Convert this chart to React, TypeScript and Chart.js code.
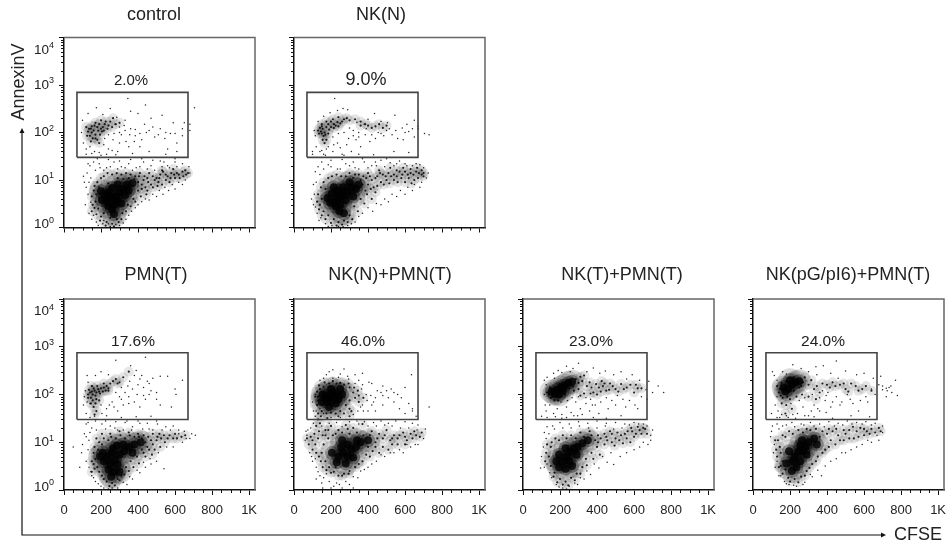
import React, { useEffect, useRef } from "react";
import { Chart, registerables } from "chart.js";

Chart.register(...registerables);

// CFSE, AnnexinV pairs (estimated sample of each cloud)
const controlCore = [250,4.3,280,4.5,230,3.5,270,3,300,5.5,320,6.5,240,5.5,220,4.8,260,6.8,290,8,340,8,260,2.4,290,3.6,205,3.8,330,4.8,370,8.5,310,3.2,240,2.8,200,5.8,350,6,270,1.9];
const controlMid = [400,9,430,10,450,11,480,12,500,11,520,13,550,13,580,14,610,14,640,15,420,8,380,10.5,350,11,320,10.5,290,11,240,8.5,190,7,175,5,170,3.5,185,2.5,215,2,250,1.6,285,1.5,315,2,345,3,375,4,400,6,440,7,470,8,510,9,550,10,600,11,230,1.3,260,1.2,295,1.3,200,1.7,160,6,405,12,460,14,530,16,590,17,660,13,625,11,150,100,170,90,180,130,200,120,140,85,160,110,190,150,220,150,240,140,170,75,130,105,210,130,250,170,180,70,145,120,165,140,205,105];
const controlMid2 = [150,4.5,165,7.5,180,9,200,11,215,12,235,14,260,13,285,14,310,13,335,14,360,13,385,12,410,14,435,12,455,9,490,10,515,11,535,15,560,12,575,11,595,13,620,13,645,12,655,16,670,14,420,6.5,450,6,480,7,505,7.5,530,8,570,9,165,2.6,155,3,150,2.2,175,1.9,195,1.4,225,1.1,270,1.05,310,1.5,335,2.2,360,2.8,385,3.5,415,4.5,445,5,125,85,135,120,150,135,155,75,185,110,195,90,215,110,225,170,235,120,260,130,280,150,300,160,120,130,145,65,190,60,265,200,170,160,200,180];
const controlDots = [110,9,125,14,140,20,160,24,130,5,115,3,135,2,150,1.5,175,1.3,210,1.2,250,1.05,300,1.1,335,1.5,365,2.2,400,3,440,4,480,5,515,6,545,7,585,8,620,9,655,10,680,14,675,19,640,22,600,24,560,20,520,25,470,20,430,24,390,18,350,22,310,19,270,24,230,18,190,22,105,60,120,45,140,50,165,40,190,38,215,55,240,45,265,70,290,40,310,90,335,65,360,120,385,85,410,50,435,150,460,110,490,80,520,120,545,75,575,95,610,60,640,85,95,100,100,180,130,250,175,330,210,240,250,320,285,210,330,180,360,280,400,250,440,380,470,200,530,230,590,160,650,160,680,110,705,330,680,150,120,35,200,33,280,34,370,36,460,40,550,35,610,40,345,520,560,45,410,95,385,115,300,130,275,150,325,140];
const controlDots2 = [145,11,170,16,195,18,215,16,250,19,290,17,330,18,370,16,410,19,450,17,490,16,530,19,570,18,610,19,120,7,135,9,105,12,145,3.4,160,1.8,185,1.1,215,1.4,240,1.2,280,1.15,320,1.25,350,1.8,385,2.6,420,3.5,460,3.8,500,4.5,535,5,565,6,600,6.5,640,8,130,22,180,28,240,27,300,25,360,27,420,28,480,26,540,24,600,28,150,36,230,35,260,42,300,60,350,50,380,65,420,70,445,100,480,130,510,90,550,100,600,95,640,120,220,75,240,90,270,95,300,100,330,110,355,90];

const nkNCore = [265,5,240,4.3,290,5.5,220,3.5,250,3,280,3.8,310,7,265,7,235,6,205,5.2,195,3.3,245,2.2,335,6.5,350,8,300,9,225,2.8,180,4.2,215,7,320,4.5,270,2];
const nkNMid = [360,10,390,11,420,10,450,12,480,13,510,14,540,13,570,15,600,15,630,14,660,15,690,13,700,12,370,8,400,8,430,7,470,9,500,10,540,10,580,11,620,11,650,10,320,11,280,12,350,13,400,14,460,16,520,18,170,6.5,150,4,140,3,160,2.2,185,1.8,215,1.5,240,1.3,270,1.4,300,1.8,325,2.8,360,4,395,5,440,5.5,155,120,165,100,175,130,185,150,200,170,215,150,235,165,250,155,145,105,160,85,150,135,190,115,225,140,270,190,285,200,300,180,175,70,165,60,440,135,460,150,420,125,480,125];
const nkNMid2 = [130,5,145,7,160,9,185,11,205,12,230,13,255,12,300,14,330,13,375,12,410,12,440,11,465,14,495,12,525,12,555,12,585,13,615,13,645,13,675,14,700,14,690,16,665,18,630,17,590,18,555,16,385,6,415,6.5,450,7.5,485,8,515,8.5,560,9,600,9,635,8.5,670,11,125,3.5,135,2.4,150,1.8,170,1.5,200,1.25,230,1.1,260,1.15,290,1.3,315,1.5,345,2.2,380,3.2,420,4,130,110,135,95,140,125,150,150,170,90,185,95,200,130,215,125,240,135,260,170,175,170,210,190,240,210,155,70,150,95,400,140,385,150,360,170,500,140,330,190,360,140];
const nkNDots = [120,9,110,5,105,3,125,2,145,1.6,170,1.2,205,1.1,240,1.05,290,1.1,330,1.3,370,2,400,2.6,445,3.2,490,4,530,5,575,6,615,7,650,8,690,9,715,11,725,14,700,18,660,22,610,20,570,25,520,23,470,26,420,20,380,24,330,18,280,22,235,17,185,21,130,19,115,15,100,40,120,50,140,40,160,35,185,50,210,40,235,60,260,35,285,55,310,40,335,70,360,50,385,90,410,65,440,75,470,95,500,110,530,90,560,75,590,70,620,105,650,80,670,120,705,95,730,90,115,85,110,110,130,170,160,220,195,260,235,290,265,320,290,300,220,520,340,165,380,150,400,190,435,250,470,170,505,160,545,230,585,125,610,150,650,180,670,135,100,35,170,33,270,33,350,35,430,34,540,40,620,38,390,120,350,100,320,110];
const nkNDots2 = [140,13,160,17,200,19,250,17,300,20,350,17,400,18,445,20,490,19,540,20,600,22,640,20,680,21,105,8,95,4,115,2.7,135,1.4,185,1.05,265,1.05,310,1.2,350,1.7,425,2.2,470,3,510,3.5,555,4.5,600,5,640,6,680,7,150,24,200,26,260,27,320,24,370,28,440,24,500,28,555,22,150,42,175,45,215,55,250,48,295,75,320,85,350,80,420,90,455,100,485,85,515,120,550,110,600,100,640,120,210,80,240,95,270,100,300,125];

const pmnCore = [275,4.3,250,3.5,300,5.5,235,5,260,6,290,3.4,325,6.5,350,8,265,7.5,215,4,285,8.5,320,9,370,6,240,2.7,270,2.4,210,6,380,9,415,10,300,2.4,255,1.9,195,5];
const pmnMid = [440,10,470,11,500,11,525,12,450,8,480,9,420,7,395,5,360,4,335,3,310,2,290,1.7,260,1.4,230,1.5,205,2,180,3,170,4.5,185,7,205,9,240,11,280,12,330,12,380,13,430,14,480,15,540,14,570,14,600,15,545,10,590,12,155,100,170,95,145,85,165,120,185,130,200,135,215,140,230,150,250,170,280,210,140,110,155,75,175,80,195,105,225,120,160,55,175,45,165,38,300,180,320,230,350,300];
const pmnMid2 = [160,6,150,4,165,8,190,10,215,12,255,13,305,14,355,14,405,13,455,13,505,13,515,15,560,12,610,12,635,13,655,14,430,6,460,7,490,7,520,8,440,5,475,5.5,405,3.6,375,3,350,2.5,325,2.1,300,1.6,275,1.25,245,1.2,215,1.7,190,2.4,165,2.8,160,3.5,150,2.4,420,12,400,15,350,16,300,17,250,15,205,15,175,12,130,100,135,125,150,115,175,110,190,115,160,135,180,150,210,115,240,135,265,190,290,170,240,120,215,170,150,150,145,65,170,65,190,75,130,85];
const pmnDots = [100,9,110,15,95,6,120,4,135,3,150,2,170,1.5,200,1.2,240,1.05,290,1.1,340,1.3,370,1.7,410,2.3,440,3,470,3.5,500,4,540,2.8,590,8,640,10,690,15,710,14,660,12,620,18,590,22,550,21,505,24,460,19,410,25,370,21,330,26,290,18,250,22,205,24,150,20,120,24,50,8,85,3,105,60,120,40,140,65,155,150,130,180,115,120,200,60,230,50,260,70,290,45,320,60,350,90,380,70,410,55,440,80,470,120,500,110,520,60,580,55,600,130,330,110,370,130,400,160,430,140,460,170,480,220,420,250,390,320,360,400,440,600,280,520,240,260,200,300,170,250,125,250,520,240,560,240,640,200,605,100,140,33,230,36,310,33,390,34,470,35,300,90,345,150];
const pmnDots2 = [130,7,135,11,120,13,140,16,175,18,225,19,275,20,320,18,365,18,425,19,480,18,530,18,575,18,620,15,650,17,680,12,130,26,170,28,225,28,280,27,340,28,400,28,450,25,500,28,145,2.4,160,1.8,185,1.35,215,1.1,260,1.1,320,1.45,355,1.9,395,2.6,430,3.8,465,4.5,510,6,555,8,165,35,205,40,245,60,270,55,310,80,350,65,395,100,430,95,460,100,500,80,110,90,125,70,280,110,310,140,355,190,380,250,410,210,450,190];

const nkNPCore = [195,85,225,95,180,70,240,80,210,110,170,95,260,100,225,65,190,55,150,70,200,130,250,130,155,100,290,5,310,7,265,6,240,5,335,8,290,9,255,8,360,10,230,3.8,280,3.6,320,4.8,205,6,400,11,340,11,260,11];
const nkNPMid = [130,90,125,60,140,130,160,145,190,170,230,170,270,160,300,140,320,110,300,75,280,60,330,85,350,70,150,45,200,42,250,45,300,50,130,40,110,15,120,22,140,25,170,18,200,22,240,18,280,23,320,20,370,24,420,17,460,15,500,18,540,14,590,16,630,15,660,14,690,16,440,10,480,12,520,11,560,12,600,13,640,12,400,8,440,8,480,8,530,9,90,13,80,9,100,7,130,12,160,9,170,14,150,6,170,4,190,3,215,2.4,240,2,270,2.2,300,2.5,330,3,370,4,410,5,210,14,300,15];
const nkNPMid2 = [70,12,100,11,115,9,135,17,155,14,185,12,185,18,225,15,260,16,290,19,340,16,375,14,410,14,450,12,490,14,530,12,570,14,610,11,650,17,680,13,120,6,135,5,145,4,155,3,175,2.6,200,2.3,225,3,260,2,295,2.2,350,3.5,390,5.5,425,6.5,460,6,510,7,560,9,600,9,130,75,115,90,125,115,135,155,165,180,210,190,250,175,295,170,325,140,345,120,350,95,375,85,310,45,270,40,225,40,175,40,145,35,240,35,300,35,180,32,130,30];
const nkNPDots = [70,14,75,18,60,11,85,6,100,4,120,3,140,2,175,2.2,150,1.4,190,1.5,215,1.2,245,1.3,280,1.5,320,1.9,360,2.5,400,3,445,4,490,5,520,6,570,7,610,9,655,9,700,12,710,19,670,23,640,25,600,27,550,28,510,25,470,28,430,26,380,27,340,28,105,45,115,35,100,70,115,100,140,200,175,260,210,220,250,270,295,210,330,170,365,130,390,100,420,60,440,45,480,60,510,85,540,70,570,50,600,40,640,50,660,35,620,65,405,180,350,200,450,120,480,95,525,130,560,100,330,260,190,300,210,330,270,340,370,280,635,260,640,45,730,55,155,1.1,120,1.7,260,1.1,320,1.1,370,60,395,75,415,95,440,85,345,45,375,45];
const nkNPDots2 = [65,17,90,20,105,25,150,22,190,25,230,26,260,21,300,27,350,24,400,22,445,22,490,23,530,22,575,20,620,20,665,18,95,5,115,4.5,130,2.4,160,1.8,200,1.1,230,1.4,300,1.3,345,1.8,380,2.7,420,3.5,470,5.5,540,6,590,6,630,8,670,9,140,50,120,45,160,40,200,33,250,33,320,38,360,55,400,45,430,70,470,110,500,120,540,110,580,85,600,140,480,150,420,170,370,160,290,240,240,230,160,220];

const nkTPCore = [185,125,170,105,205,140,225,155,245,175,265,185,155,115,195,100,215,120,255,6.3,235,5,275,7.5,215,4,250,4,295,8,230,7.5,195,5.5,265,3.2,320,9.5,350,11,195,3,290,5.5,230,2.8,180,4];
const nkTPMid = [140,100,150,85,170,75,190,75,225,100,250,135,285,210,310,235,330,250,360,180,410,140,432,150,450,120,470,170,500,130,530,165,560,140,600,110,620,135,380,110,400,100,330,105,300,130,390,11,420,12,450,13,480,15,510,16,550,15,590,17,630,18,660,19,670,15,520,11,560,12,600,13,440,9,480,10,400,8,370,6,340,4.5,320,3,290,2.2,260,1.8,230,1.5,200,1.7,170,2.3,150,3.2,140,5,150,8,175,12,215,14,260,14,310,16,360,17];
const nkTPMid2 = [125,6,130,9,120,4,155,10,195,11,235,12,285,12,330,13,370,14,405,14,440,15,470,17,500,12,530,14,565,17,610,15,640,15,650,20,620,21,585,20,405,10,455,11,495,8.5,540,9.5,580,10,165,1.9,185,1.45,215,1.3,245,1.25,280,1.6,310,2.2,345,3.3,380,4.5,415,5.5,145,140,160,90,130,110,180,90,200,165,235,180,270,150,300,175,320,190,345,150,370,140,395,165,420,115,440,170,465,125,485,150,515,115,545,130,580,160,610,160,640,135,425,190,365,105,310,95,275,120];
const nkTPDots = [110,8,100,5,125,12,95,2.9,130,3.5,155,1.8,180,1.3,215,1.1,250,1.2,280,1.4,310,1.8,345,2.5,385,3.5,430,5,475,6,490,3.4,600,7,650,10,690,14,700,18,650,24,600,26,550,24,500,26,450,25,400,28,350,25,300,27,250,24,200,26,160,22,130,21,100,35,125,45,145,60,165,40,185,50,210,38,235,55,260,42,285,70,310,50,340,65,365,80,390,60,420,70,450,85,480,75,510,95,540,80,575,75,605,60,640,90,665,125,670,80,680,190,700,110,760,110,730,150,115,200,130,230,165,280,190,320,235,390,270,350,300,450,345,300,380,360,415,280,445,310,490,260,530,300,560,210,590,260,630,200,130,33,210,32,295,36,380,33,450,32,530,36];
const nkTPDots2 = [115,16,140,15,170,19,215,20,260,20,305,22,355,20,400,20,445,22,490,19,535,20,575,23,625,24,670,22,690,11,675,9,630,8,560,6,525,5,455,3.8,410,2.9,365,2.1,330,1.7,295,1.3,235,1.05,195,1.15,145,2.3,115,3,145,30,175,34,235,33,275,36,320,38,360,45,410,40,460,50,500,60,555,55,620,50,205,70,240,75,265,85,300,90,340,85,375,60,120,60,115,100,125,160,170,220,210,290,255,300];

const nkPGCore = [210,160,190,130,175,115,230,180,200,200,165,140,250,190,270,6.5,245,6.3,225,5,285,8,255,8.5,215,4,195,6.5,255,4,300,10,330,12,235,3,290,5.5,180,3.6,210,2.5,345,9,265,11];
const nkPGMid = [150,95,145,130,160,85,185,90,220,120,260,150,280,230,300,160,330,130,360,110,400,160,430,180,470,160,500,130,530,170,570,120,610,150,300,90,340,80,180,60,210,50,175,40,360,13,400,15,430,17,460,14,490,18,520,18,560,17,600,19,640,19,680,20,690,17,420,11,470,11,520,12,570,13,390,7,350,5,320,3.5,290,2.5,260,1.9,225,1.7,190,1.8,160,2.2,140,3,130,5,145,8,120,11,175,13,215,15,270,16,310,18];
const nkPGMid2 = [125,7,135,11,150,6,160,4,150,3.2,175,2.7,200,1.5,245,1.45,280,2,305,2.9,340,4,375,6,410,8,445,9,490,11,545,12,600,14,630,15,660,16,615,17,580,20,540,21,500,15,450,19,410,19,375,17,340,19,290,19,245,18,195,17,160,14,130,150,140,110,155,175,180,190,220,230,250,140,270,180,315,200,345,150,375,170,415,140,445,150,490,170,515,115,555,150,590,130,640,120,265,100,235,90,200,80,155,65];
const nkPGDots = [95,13,115,9,100,17,130,4,150,2,170,1.5,195,1.3,235,1.2,270,1.3,320,1.9,370,2,450,4.5,500,6,560,8,620,11,670,14,700,22,660,25,610,27,560,26,510,28,460,25,410,27,360,24,310,26,260,24,210,26,160,22,130,24,100,40,120,60,115,250,105,300,130,90,135,45,155,38,190,33,240,40,270,55,300,36,330,60,360,45,390,75,420,55,450,90,480,70,510,100,540,65,580,75,610,90,640,130,660,100,680,160,700,150,720,135,735,140,750,110,770,200,780,95,720,90,260,350,300,300,345,260,380,400,420,280,460,220,500,310,560,260,600,280,650,220,690,240,160,300,215,420,450,500,340,380,130,33,230,32,330,34,430,32,530,36,630,34,375,120,405,110];
const nkPGDots2 = [105,22,140,19,180,23,225,21,275,23,330,22,385,21,440,22,485,23,535,24,590,24,640,23,700,16,680,11,640,10,590,9,530,7,480,6,420,4,390,3.2,350,2.6,310,2.1,280,1.45,220,1.25,180,1.35,140,2,120,3,110,6,145,33,180,36,215,38,280,36,315,45,350,50,395,42,430,70,470,60,525,80,570,45,620,70,205,65,250,75,280,85,320,100,360,85,395,95,700,125,725,120,745,150,180,270,130,200];

const titles = ["control", "NK(N)", "PMN(T)", "NK(N)+PMN(T)", "NK(T)+PMN(T)", "NK(pG/pI6)+PMN(T)"];
const percents = ["2.0%", "9.0%", "17.6%", "46.0%", "23.0%", "24.0%"];
const coreSets = [controlCore, nkNCore, pmnCore, nkNPCore, nkTPCore, nkPGCore];
const midSets = [controlMid, nkNMid, pmnMid, nkNPMid, nkTPMid, nkPGMid];
const midSets2 = [controlMid2, nkNMid2, pmnMid2, nkNPMid2, nkTPMid2, nkPGMid2];
const dotSets = [controlDots, nkNDots, pmnDots, nkNPDots, nkTPDots, nkPGDots];
const dotSets2 = [controlDots2, nkNDots2, pmnDots2, nkNPDots2, nkTPDots2, nkPGDots2];
const xTicks = [0, 200, 400, 600, 800, 1000];
const xMinorTicks = [50, 100, 150, 250, 300, 350, 450, 500, 550, 650, 700, 750, 850, 900, 950];
const yTicks = [1, 10, 100, 1000, 10000];
const yExponents = ["0", "1", "2", "3", "4"];
const gateX = [70, 670];
const gateYTop = [700, 700, 750, 750, 750, 750];
const gateYBottom = 30;

// layout
const FONT = "'Liberation Sans', Arial, sans-serif";
const TEXT = "#222";
const canvasBoxes = [
  { left: 0, top: 0, width: 262, height: 262, margin: 64, pad: 37.5, bottom: 34.5 },
  { left: 270, top: 0, width: 222, height: 262, margin: 24, pad: 37.5, bottom: 34.5 },
  { left: 0, top: 262, width: 262, height: 283, margin: 64, pad: 37, bottom: 55 },
  { left: 270, top: 262, width: 222, height: 283, margin: 24, pad: 37, bottom: 55 },
  { left: 499, top: 262, width: 222, height: 283, margin: 24, pad: 37, bottom: 55 },
  { left: 729, top: 262, width: 217, height: 283, margin: 24, pad: 37, bottom: 55 },
];
const titleCenters = [154, 381, 156, 390, 622, 848];
const titleY = [15, 15, 275, 275, 275, 275];
const percentCenters = [131, 366, 133, 363, 591, 823];
const percentY = [81, 80, 342, 342, 342, 342];
const percentSizes = [15, 18, 15.5, 15.5, 15.5, 15.5];

const toPoints = (flat: number[]) => {
  const out: { x: number; y: number }[] = [];
  for (let i = 0; i < flat.length; i += 2) out.push({ x: flat[i], y: flat[i + 1] });
  return out;
};

function Panel({ index }: { index: number }) {
  const ref = useRef<HTMLCanvasElement | null>(null);
  const box = canvasBoxes[index];
  useEffect(() => {
    const gate = [
      { x: gateX[0], y: gateYBottom },
      { x: gateX[1], y: gateYBottom },
      { x: gateX[1], y: gateYTop[index] },
      { x: gateX[0], y: gateYTop[index] },
      { x: gateX[0], y: gateYBottom },
    ];
    const core = toPoints(coreSets[index]);
    const mid = toPoints(midSets[index].concat(midSets2[index]));
    const dots = toPoints(dotSets[index].concat(dotSets2[index]));
    const decorate = {
      id: "decorate",
      afterDraw(chart: any) {
        const { ctx, chartArea: a, scales } = chart;
        const xs = scales.x;
        const ys = scales.y;
        ctx.save();
        ctx.strokeStyle = "#666";
        ctx.lineWidth = 1.5;
        ctx.beginPath();
        ctx.moveTo(a.left, a.top);
        ctx.lineTo(a.right, a.top);
        ctx.lineTo(a.right, a.bottom);
        ctx.stroke();
        ctx.strokeStyle = "#111";
        ctx.lineWidth = 1;
        ctx.beginPath();
        xMinorTicks.forEach((v) => {
          const p = Math.round(xs.getPixelForValue(v)) + 0.5;
          ctx.moveTo(p, a.bottom);
          ctx.lineTo(p, a.bottom + 3);
        });
        yTicks.slice(0, -1).forEach((d) => {
          [2, 3, 4, 5, 6, 7, 8, 9].forEach((m) => {
            const p = Math.round(ys.getPixelForValue(d * m)) + 0.5;
            ctx.moveTo(a.left, p);
            ctx.lineTo(a.left - 3, p);
          });
        });
        ctx.stroke();
        ctx.fillStyle = TEXT;
        ctx.textAlign = "center";
        ctx.textBaseline = "middle";
        ctx.font = `18px ${FONT}`;
        ctx.fillText(titles[index], titleCenters[index] - box.left, titleY[index] - box.top);
        ctx.font = `${percentSizes[index]}px ${FONT}`;
        ctx.fillText(percents[index], percentCenters[index] - box.left, percentY[index] - box.top);
        if (box.margin > 30) {
          yTicks.forEach((v, i) => {
            const shift = v === 10000 ? 12.5 : v === 1 ? -3 : 0;
            const p = ys.getPixelForValue(v) + shift;
            ctx.textAlign = "right";
            ctx.font = `13.5px ${FONT}`;
            ctx.fillText("10", 49, p);
            ctx.textAlign = "left";
            ctx.font = `9px ${FONT}`;
            ctx.fillText(yExponents[i], 49, p - 4);
          });
        }
        ctx.restore();
      },
    };
    const chart = new Chart(ref.current as HTMLCanvasElement, {
      type: "scatter",
      data: {
        datasets: [
          { data: gate, showLine: true, borderColor: "#444", borderWidth: 1.6, pointRadius: 0, fill: false, tension: 0 },
          { data: dots, backgroundColor: "rgba(0,0,0,0.85)", borderWidth: 0, pointRadius: 0.75 },
          { data: mid, backgroundColor: "rgba(0,0,0,0.85)", borderWidth: 0, pointRadius: 1.1 },
          { data: core, backgroundColor: "rgba(0,0,0,0.8)", borderWidth: 0, pointRadius: 4 },
          { data: core, backgroundColor: "rgba(0,0,0,0.3)", borderWidth: 0, pointRadius: 7 },
          { data: core, backgroundColor: "rgba(0,0,0,0.14)", borderWidth: 0, pointRadius: 12 },
          { data: mid, backgroundColor: "rgba(0,0,0,0.1)", borderWidth: 0, pointRadius: 5 },
        ],
      } as any,
      options: {
        animation: false,
        responsive: false,
        events: [],
        layout: { autoPadding: false, padding: { top: box.pad, left: 0, right: box.width - box.margin - 191, bottom: 0 } },
        plugins: { legend: { display: false }, tooltip: { enabled: false }, title: { display: false } },
        scales: {
          x: {
            type: "linear",
            min: 0,
            max: 1032,
            afterBuildTicks: (s: any) => {
              s.ticks = xTicks.map((value) => ({ value }));
            },
            afterFit: (s: any) => {
              s.height = box.bottom;
              s.paddingLeft = 0;
              s.paddingRight = 0;
            },
            border: { color: "#111", width: 1.5 },
            grid: { drawOnChartArea: false, drawTicks: true, tickLength: 5, color: "#111" },
            ticks: {
              display: index >= 2,
              autoSkip: false,
              maxRotation: 0,
              padding: 8,
              color: TEXT,
              font: { family: FONT, size: 13 },
              callback: (v: any) => (v === 1000 ? "1K" : String(v)),
            },
          },
          y: {
            type: "logarithmic",
            min: 1,
            max: 10000,
            afterBuildTicks: (s: any) => {
              s.ticks = yTicks.map((value) => ({ value }));
            },
            afterFit: (s: any) => {
              s.width = box.margin;
            },
            border: { color: "#111", width: 1.5 },
            grid: { drawOnChartArea: false, drawTicks: true, tickLength: 5, color: "#111" },
            ticks: { display: false },
          },
        },
      } as any,
      plugins: [decorate],
    });
    return () => chart.destroy();
  }, [index]);
  return (
    <canvas
      ref={ref}
      width={box.width}
      height={box.height}
      style={{ position: "absolute", left: box.left, top: box.top, width: box.width, height: box.height }}
    />
  );
}

function AxisArrows() {
  const ref = useRef<HTMLCanvasElement | null>(null);
  useEffect(() => {
    const arrows = {
      id: "arrows",
      afterDraw(chart: any) {
        const { ctx } = chart;
        ctx.save();
        ctx.strokeStyle = "#111";
        ctx.fillStyle = "#111";
        ctx.lineWidth = 1.2;
        ctx.beginPath();
        ctx.moveTo(22, 131);
        ctx.lineTo(22, 535);
        ctx.lineTo(882, 535);
        ctx.stroke();
        ctx.beginPath();
        ctx.moveTo(22, 128);
        ctx.lineTo(19.5, 133);
        ctx.lineTo(24.5, 133);
        ctx.closePath();
        ctx.moveTo(886, 535);
        ctx.lineTo(881, 532.5);
        ctx.lineTo(881, 537.5);
        ctx.closePath();
        ctx.fill();
        ctx.fillStyle = TEXT;
        ctx.font = `18px ${FONT}`;
        ctx.textAlign = "center";
        ctx.textBaseline = "middle";
        ctx.fillText("CFSE", 918, 535);
        ctx.translate(19, 82);
        ctx.rotate(-Math.PI / 2);
        ctx.fillText("AnnexinV", 0, 0);
        ctx.restore();
      },
    };
    const chart = new Chart(ref.current as HTMLCanvasElement, {
      type: "scatter",
      data: { datasets: [] },
      options: {
        animation: false,
        responsive: false,
        events: [],
        plugins: { legend: { display: false }, tooltip: { enabled: false } },
        scales: { x: { display: false }, y: { display: false } },
      } as any,
      plugins: [arrows],
    });
    return () => chart.destroy();
  }, []);
  return <canvas ref={ref} width={946} height={545} style={{ position: "absolute", left: 0, top: 0, width: 946, height: 545 }} />;
}

export default function App() {
  return (
    <div style={{ position: "fixed", left: 0, top: 0, width: 946, height: 545, overflow: "hidden", background: "#fff" }}>
      <AxisArrows />
      {titles.map((t, i) => (
        <Panel key={t} index={i} />
      ))}
    </div>
  );
}
